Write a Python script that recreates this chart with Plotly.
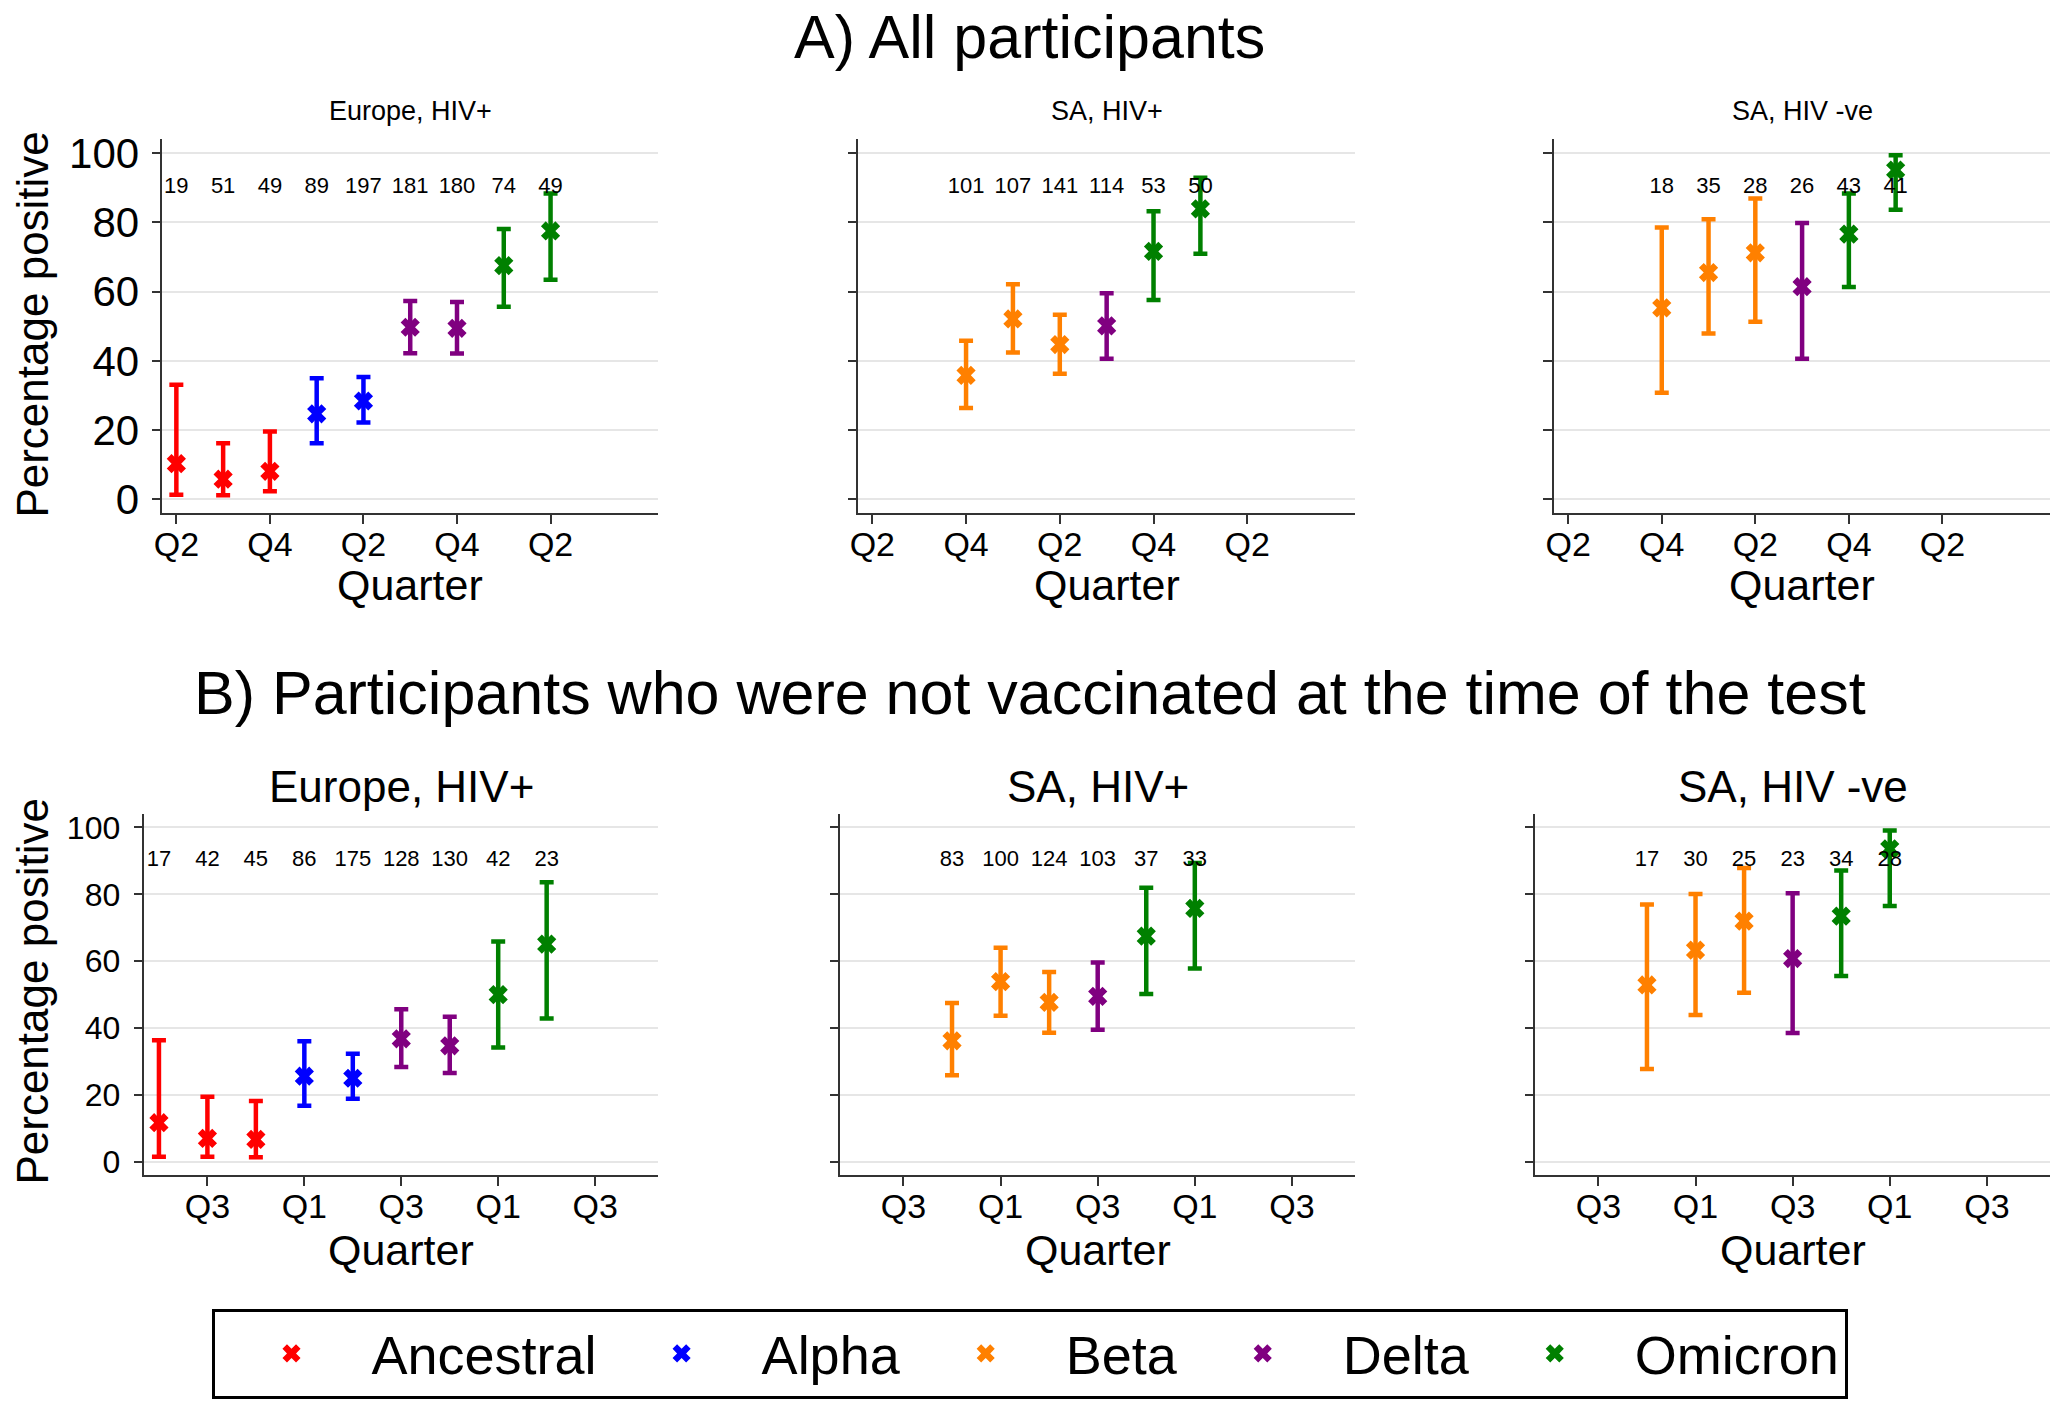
"""
Percentage positive by quarter and variant, for all participants (A) and for
participants who were not vaccinated at the time of the test (B).
"""
import plotly.graph_objects as go
from plotly.subplots import make_subplots


# Quarter axis: a quarter sits at its index in this list
QUARTERS = ["2020 Q2", "2020 Q3", "2020 Q4", "2021 Q1", "2021 Q2", "2021 Q3",
            "2021 Q4", "2022 Q1", "2022 Q2", "2022 Q3", "2022 Q4"]
TICKS_ROW_A = ["2020 Q2", "2020 Q4", "2021 Q2", "2021 Q4", "2022 Q2"]
TICKS_ROW_B = ["2020 Q3", "2021 Q1", "2021 Q3", "2022 Q1", "2022 Q3"]
Y_TICKS = [0, 20, 40, 60, 80, 100]

VARIANTS = ["Ancestral", "Alpha", "Beta", "Delta", "Omicron"]

EU_QUARTERS = ["2020 Q2", "2020 Q3", "2020 Q4", "2021 Q1", "2021 Q2",
               "2021 Q3", "2021 Q4", "2022 Q1", "2022 Q2"]
EU_VARIANTS = ["Ancestral", "Ancestral", "Ancestral", "Alpha", "Alpha",
               "Delta", "Delta", "Omicron", "Omicron"]
SA_QUARTERS = ["2020 Q4", "2021 Q1", "2021 Q2", "2021 Q3", "2021 Q4", "2022 Q1"]
SA_VARIANTS = ["Beta", "Beta", "Beta", "Delta", "Omicron", "Omicron"]

# A) All participants
A_EU_PCT = [10.3, 5.8, 8.1, 24.7, 28.4, 49.7, 49.4, 67.5, 77.5]
A_EU_LO = [1.3, 1.2, 2.3, 16.2, 22.2, 42.2, 42.1, 55.6, 63.4]
A_EU_HI = [33.1, 16.2, 19.6, 35.0, 35.3, 57.3, 57.0, 78.1, 88.3]
A_EU_N = [19, 51, 49, 89, 197, 181, 180, 74, 49]

A_SAP_PCT = [35.8, 52.1, 44.7, 50.1, 71.6, 83.9]
A_SAP_LO = [26.4, 42.4, 36.3, 40.6, 57.6, 70.9]
A_SAP_HI = [45.8, 62.1, 53.3, 59.5, 83.2, 92.9]
A_SAP_N = [101, 107, 141, 114, 53, 50]

A_SAN_PCT = [55.3, 65.5, 71.2, 61.4, 76.6, 95.1]
A_SAN_LO = [30.8, 47.9, 51.3, 40.6, 61.3, 83.6]
A_SAN_HI = [78.5, 80.9, 86.9, 79.8, 88.3, 99.4]
A_SAN_N = [18, 35, 28, 26, 43, 41]

# B) Not vaccinated at the time of the test
B_EU_PCT = [11.7, 7.0, 6.7, 25.6, 25.0, 36.8, 34.7, 50.0, 65.1]
B_EU_LO = [1.5, 1.5, 1.4, 16.8, 18.9, 28.4, 26.6, 34.2, 42.9]
B_EU_HI = [36.4, 19.5, 18.2, 36.1, 32.3, 45.6, 43.4, 65.9, 83.6]
B_EU_N = [17, 42, 45, 86, 175, 128, 130, 42, 23]

B_SAP_PCT = [36.2, 53.9, 47.7, 49.5, 67.5, 75.8]
B_SAP_LO = [25.9, 43.7, 38.6, 39.5, 50.2, 57.8]
B_SAP_HI = [47.5, 64.0, 56.8, 59.6, 82.0, 89.4]
B_SAP_N = [83, 100, 124, 103, 37, 33]

B_SAN_PCT = [52.9, 63.3, 72.0, 60.8, 73.5, 93.6]
B_SAN_LO = [27.8, 43.9, 50.6, 38.5, 55.6, 76.5]
B_SAN_HI = [77.0, 80.1, 87.9, 80.3, 87.1, 99.1]
B_SAN_N = [17, 30, 25, 23, 34, 28]

PANEL_TITLES = ["Europe, HIV+", "SA, HIV+", "SA, HIV -ve"]
SECTION_TITLES = ["A) All participants",
                  "B) Participants who were not vaccinated at the time of the test"]

PANELS = [
    # row, col, quarters, variants, estimate, lower, upper, n
    (1, 1, EU_QUARTERS, EU_VARIANTS, A_EU_PCT, A_EU_LO, A_EU_HI, A_EU_N),
    (1, 2, SA_QUARTERS, SA_VARIANTS, A_SAP_PCT, A_SAP_LO, A_SAP_HI, A_SAP_N),
    (1, 3, SA_QUARTERS, SA_VARIANTS, A_SAN_PCT, A_SAN_LO, A_SAN_HI, A_SAN_N),
    (2, 1, EU_QUARTERS, EU_VARIANTS, B_EU_PCT, B_EU_LO, B_EU_HI, B_EU_N),
    (2, 2, SA_QUARTERS, SA_VARIANTS, B_SAP_PCT, B_SAP_LO, B_SAP_HI, B_SAP_N),
    (2, 3, SA_QUARTERS, SA_VARIANTS, B_SAN_PCT, B_SAN_LO, B_SAN_HI, B_SAN_N),
]


# Styling
WIDTH, HEIGHT = 2050, 1422
FONT = "Liberation Sans, Arial, Helvetica, sans-serif"
COLORS = {
    'Ancestral': '#FF0000',
    'Alpha': '#0000FF',
    'Beta': '#FF8000',
    'Delta': '#800080',
    'Omicron': '#008000',
}
AXIS_COLOR = '#333333'
GRID_COLOR = '#E6E6E6'
COUNT_LABEL_Y = 90          # counts are written at this height
X_RANGE = [-0.3, 10.3]
Y_RANGE = [-4, 104]

# plot areas in page pixels: x spans per column, y span (top, bottom)
ROW_BOX = {
    1: dict(x=[(154, 652), (853, 1352), (1552, 2050)], y=(132, 511)),
    2: dict(x=[(136, 652), (835, 1352), (1533, 2050)], y=(816, 1182)),
}
ROW_TEXT = {
    1: dict(section_y=28, title_y=103, title_size=27, xtitle_y=584,
            ytick_size=42, ystandoff=4, ytitle_y=320),
    2: dict(section_y=693, title_y=788, title_size=44, xtitle_y=1258,
            ytick_size=32, ystandoff=7, ytitle_y=996),
}


def _px(x=None, y=None):
    """Convert page pixels (from top-left) to paper coordinates."""
    if x is not None:
        return x / WIDTH
    return 1 - y / HEIGHT


def _add_panel(fig, row, col, quarters, variants, pct, lower, upper, n, seen):
    """Add the point estimates with CIs, and the count labels, of one panel."""
    for variant in VARIANTS:
        idx = [i for i, v in enumerate(variants) if v == variant]
        if not idx:
            continue
        fig.add_trace(go.Scatter(
            x=[QUARTERS.index(quarters[i]) for i in idx],
            y=[pct[i] for i in idx],
            mode='markers',
            name=variant,
            legendgroup=variant,
            legendrank=VARIANTS.index(variant),
            showlegend=variant not in seen,
            marker=dict(symbol='x', size=17, color=COLORS[variant],
                        line=dict(width=0)),
            error_y=dict(
                type='data',
                symmetric=False,
                array=[upper[i] - pct[i] for i in idx],
                arrayminus=[pct[i] - lower[i] for i in idx],
                color=COLORS[variant],
                thickness=4.5,
                width=7
            ),
            hoverinfo='x+y'
        ), row=row, col=col)
        seen.add(variant)

    fig.add_trace(go.Scatter(
        x=[QUARTERS.index(q) for q in quarters],
        y=[COUNT_LABEL_Y] * len(n),
        mode='text',
        text=[str(v) for v in n],
        textfont=dict(size=22, color='black', family=FONT),
        showlegend=False,
        hoverinfo='skip'
    ), row=row, col=col)


def _style_axes(fig, row, col):
    """Domains, ticks and grid for one panel."""
    box = ROW_BOX[row]
    x0, x1 = box['x'][col - 1]
    top, bottom = box['y']
    ticks = TICKS_ROW_A if row == 1 else TICKS_ROW_B

    fig.update_xaxes(
        domain=[_px(x=x0), _px(x=x1)],
        range=X_RANGE,
        tickmode='array',
        tickvals=[QUARTERS.index(q) for q in ticks],
        ticktext=[q.split()[1] for q in ticks],
        ticks='outside', ticklen=9, tickwidth=1.5, tickcolor=AXIS_COLOR,
        ticklabelstandoff=-9,
        tickfont=dict(size=34, color='black', family=FONT),
        showline=True, linecolor=AXIS_COLOR, linewidth=1.5,
        showgrid=False, zeroline=False,
        row=row, col=col
    )
    fig.update_yaxes(
        domain=[_px(y=bottom), _px(y=top)],
        range=Y_RANGE,
        tickmode='array',
        tickvals=Y_TICKS,
        showticklabels=(col == 1),
        ticks='outside', ticklen=9, tickwidth=1.5, tickcolor=AXIS_COLOR,
        ticklabelstandoff=ROW_TEXT[row]['ystandoff'],
        tickfont=dict(size=ROW_TEXT[row]['ytick_size'], color='black', family=FONT),
        showline=True, linecolor=AXIS_COLOR, linewidth=1.5,
        showgrid=True, gridcolor=GRID_COLOR, gridwidth=2,
        zeroline=False,
        row=row, col=col
    )


def _add_titles(fig):
    """Section titles, panel titles and axis titles."""
    annotations = []
    for row in (1, 2):
        text = ROW_TEXT[row]
        box = ROW_BOX[row]
        annotations.append(dict(
            text=SECTION_TITLES[row - 1], x=0.5, y=_px(y=text['section_y']),
            font=dict(size=61)
        ))
        for col, (x0, x1) in enumerate(box['x']):
            xc = _px(x=(x0 + x1) / 2)
            annotations.append(dict(
                text=PANEL_TITLES[col], x=xc, y=_px(y=text['title_y']),
                font=dict(size=text['title_size'])
            ))
            annotations.append(dict(
                text="Quarter", x=xc, y=_px(y=text['xtitle_y']),
                font=dict(size=43)
            ))
        annotations.append(dict(
            text="Percentage positive", x=_px(x=24), y=_px(y=text['ytitle_y']),
            textangle=-90, font=dict(size=44)
        ))

    for a in annotations:
        a.update(xref='paper', yref='paper', xanchor='center', yanchor='middle',
                 showarrow=False)
        a['font'].update(family=FONT, color='black')
        fig.add_annotation(**a)


fig = make_subplots(rows=2, cols=3)

seen_variants = set()
for row, col, quarters, variants, pct, lower, upper, n in PANELS:
    _add_panel(fig, row, col, quarters, variants, pct, lower, upper, n, seen_variants)
    _style_axes(fig, row, col)

_add_titles(fig)

fig.update_layout(
    width=WIDTH,
    height=HEIGHT,
    margin=dict(l=0, r=0, t=0, b=0),
    paper_bgcolor='white',
    plot_bgcolor='white',
    font=dict(family=FONT, color='black'),
    legend=dict(
        orientation='h',
        x=0.5, xanchor='center',
        y=_px(y=1363), yanchor='middle',
        bordercolor='black',
        borderwidth=3,
        bgcolor='white',
        itemwidth=150,
        font=dict(size=54, family=FONT, color='black')
    ),
    showlegend=True
)

fig.write_html(
    "out.html",
    config={'displayModeBar': False},
    post_script="document.body.style.margin='0';document.body.style.overflow='hidden';"
)
